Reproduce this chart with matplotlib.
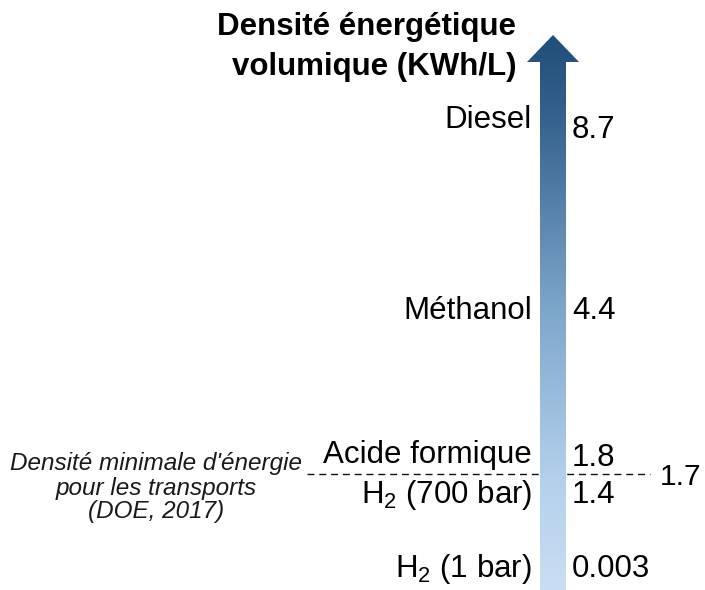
import numpy as np
import matplotlib
matplotlib.use("Agg")
from matplotlib import pyplot as plt
from matplotlib.patches import Polygon
from matplotlib.colors import LinearSegmentedColormap

plt.rcParams['font.family'] = ['Liberation Sans', 'DejaVu Sans']
plt.rcParams['mathtext.fontset'] = 'custom'
plt.rcParams['mathtext.rm'] = 'Liberation Sans'
plt.rcParams['mathtext.it'] = 'Liberation Sans:italic'

### data
fuels = ['Diesel', 'Méthanol', 'Acide formique', 'H$_2$ (700 bar)', 'H$_2$ (1 bar)']
densities = [8.7, 4.4, 1.8, 1.4, 0.003]
doe_target = 1.7
doe_note = ["Densité minimale d'énergie", "pour les transports", "(DOE, 2017)"]
title_lines = ["Densité énergétique", "volumique (KWh/L)"]

### layout (pixel positions, schematic not to scale)
label_base = [128, 319, 463, 503, 577]
value_base = [138, 319, 466, 503, 577]
note_base = [470, 495, 518]
title_base = [35, 75]

fig = plt.figure(figsize=(7.05, 5.9), dpi=100)
ax = fig.add_axes([0, 0, 1, 1])
ax.set_xlim(0, 705)
ax.set_ylim(590, 0)
ax.axis('off')

### gradient arrow
cmap = LinearSegmentedColormap.from_list(
    'arrow', [(0, '#1F4E79'), (0.15, '#35628E'), (0.5, '#7FA7CC'),
              (0.8, '#B3D0EB'), (1, '#C9DEF2')])
arrow_pts = [(553, 35), (579, 62), (566, 62), (566, 590),
             (540, 590), (540, 62), (527, 62)]
arrow = Polygon(arrow_pts, closed=True, facecolor='none', edgecolor='none')
ax.add_patch(arrow)
grad = np.linspace(0, 1, 256).reshape(-1, 1)
im = ax.imshow(grad, cmap=cmap, aspect='auto', extent=[527, 579, 590, 35],
               zorder=3, interpolation='bilinear')
im.set_clip_path(arrow)
ax.set_xlim(0, 705)
ax.set_ylim(590, 0)

### DOE dashed line
ax.plot([307, 650], [474, 474], color='#111111', lw=1.0, dashes=(5, 3.5), zorder=2)
ax.text(660, 485, f'{doe_target:g}', fontsize=21.5, ha='left', va='baseline')
for line, yb in zip(doe_note, note_base):
    ax.text(156, yb, line, fontsize=17.5, style='italic', ha='center',
            va='baseline', color='#1a1a1a')

### labels and values
for name, val, yl, yv in zip(fuels, densities, label_base, value_base):
    ax.text(532, yl, name, fontsize=22.5, ha='right', va='baseline')
    ax.text(572, yv, f'{val:g}', fontsize=22.5, ha='left', va='baseline')

### title
for line, yb in zip(title_lines, title_base):
    ax.text(516, yb, line, fontsize=22.5, weight='bold', ha='right', va='baseline')

plt.savefig('out.png', dpi=100)
